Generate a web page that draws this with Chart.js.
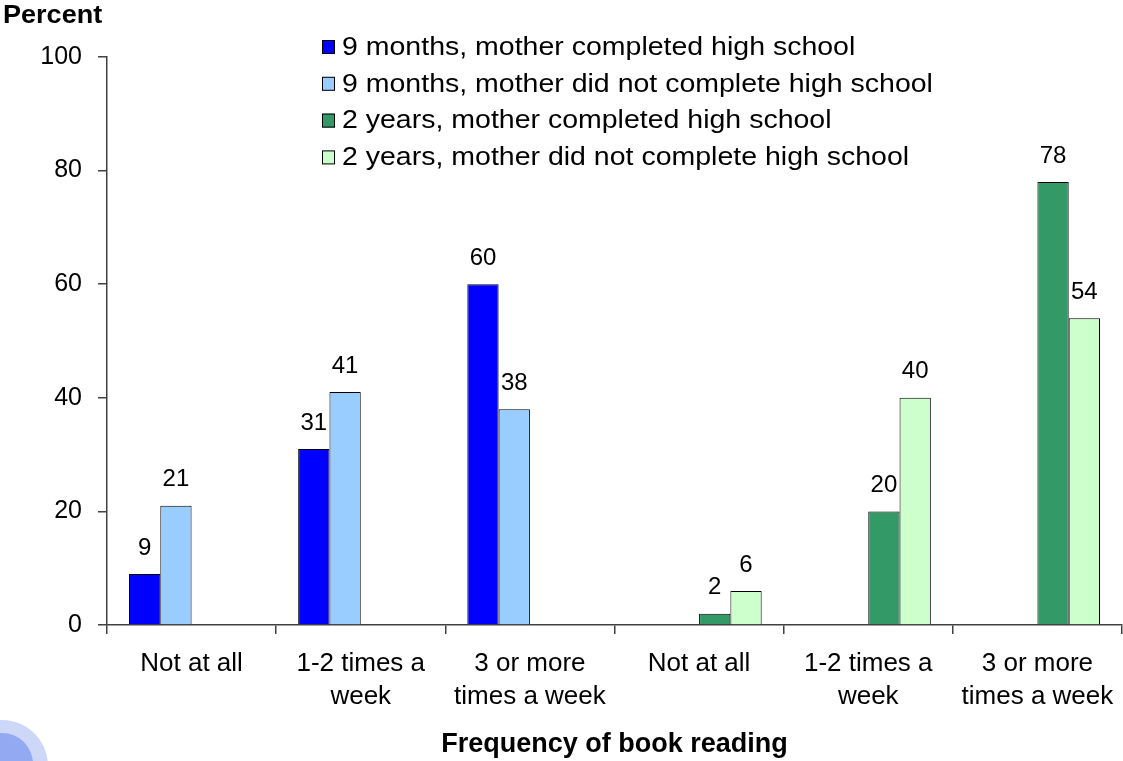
<!DOCTYPE html>
<html>
<head>
<meta charset="utf-8">
<script src="https://cdn.jsdelivr.net/npm/chart.js@4/dist/chart.umd.min.js"></script>
<style>
  html, body { margin: 0; padding: 0; background: #fff; }
  #wrap { width: 1123px; height: 761px; position: relative; }
</style>
</head>
<body>
<div id="wrap"><canvas id="myChart" width="1123" height="761"></canvas></div>
<script>
const categories = [
    'Not at all', ['1-2 times a', 'week'], ['3 or more', 'times a week'],
    'Not at all', ['1-2 times a', 'week'], ['3 or more', 'times a week']
];
const nineMonthsCompleted = [9, 31, 60, null, null, null];
const nineMonthsNotCompleted = [21, 41, 38, null, null, null];
const twoYearsCompleted = [null, null, null, 2, 20, 78];
const twoYearsNotCompleted = [null, null, null, 6, 40, 54];
const yTicks = [0, 20, 40, 60, 80, 100];

const FONT = "'Liberation Sans', Arial, sans-serif";

// value labels above each bar
const valueLabels = {
    id: 'valueLabels',
    afterDatasetsDraw(chart) {
        const ctx = chart.ctx;
        ctx.save();
        ctx.font = '24px ' + FONT;
        ctx.fillStyle = '#000';
        ctx.textAlign = 'center';
        ctx.textBaseline = 'bottom';
        chart.data.datasets.forEach((ds, i) => {
            chart.getDatasetMeta(i).data.forEach((bar, j) => {
                const v = ds.data[j];
                if (v === null) return;
                ctx.fillText(String(v), bar.x, bar.y - 14);
            });
        });
        ctx.restore();
    }
};

// legend inside the plot, "Percent" heading and the corner blob
const decorations = {
    id: 'decorations',
    afterDraw(chart) {
        const ctx = chart.ctx;
        ctx.save();
        ctx.font = 'bold 26px ' + FONT;
        ctx.fillStyle = '#000';
        ctx.textAlign = 'left';
        ctx.textBaseline = 'middle';
        ctx.save();
        ctx.translate(3, 16);
        ctx.scale(1.04, 1);
        ctx.fillText('Percent', 0, 0);
        ctx.restore();

        ctx.font = '25px ' + FONT;
        chart.data.datasets.forEach((ds, i) => {
            const y = 47 + i * 36.8;
            ctx.fillStyle = ds.backgroundColor;
            ctx.fillRect(322, y - 7, 13, 14);
            ctx.strokeStyle = '#000';
            ctx.lineWidth = 1;
            ctx.strokeRect(322.5, y - 6.5, 12, 13);
            ctx.fillStyle = '#000';
            ctx.save();
            ctx.translate(342, y + 1);
            ctx.scale(1.14, 1);
            ctx.fillText(ds.label, 0, 0);
            ctx.restore();
        });

        ctx.fillStyle = '#cdd8f8';
        ctx.beginPath();
        ctx.ellipse(2, 766, 46, 46, 0, 0, Math.PI * 2);
        ctx.fill();
        ctx.fillStyle = '#93aaf3';
        ctx.beginPath();
        ctx.ellipse(2, 764, 31, 31, 0, 0, Math.PI * 2);
        ctx.fill();
        ctx.restore();
    }
};

const ctx = document.getElementById('myChart').getContext('2d');
const myChart = new Chart(ctx, {
    type: 'bar',
    data: {
        labels: categories,
        datasets: [
            { label: '9 months, mother completed high school', data: nineMonthsCompleted, backgroundColor: '#0000ff' },
            { label: '9 months, mother did not complete high school', data: nineMonthsNotCompleted, backgroundColor: '#99ccff' },
            { label: '2 years, mother completed high school', data: twoYearsCompleted, backgroundColor: '#339966' },
            { label: '2 years, mother did not complete high school', data: twoYearsNotCompleted, backgroundColor: '#ccffcc' }
        ]
    },
    options: {
        responsive: false,
        animation: false,
        layout: { padding: { top: 57, right: 1, left: 0, bottom: 0 } },
        datasets: {
            bar: {
                borderColor: '#000',
                borderWidth: 1,
                borderSkipped: 'bottom',
                categoryPercentage: 0.74,
                barPercentage: 1
            }
        },
        plugins: {
            legend: { display: false },
            tooltip: { enabled: false }
        },
        scales: {
            x: {
                afterFit(scale) {
                    scale.height = 136;
                    scale.paddingLeft = 0;
                    scale.paddingRight = 0;
                },
                grid: { drawOnChartArea: false, offset: true, tickLength: 9, color: '#404040', lineWidth: 1.5 },
                border: { color: '#404040', width: 1.5 },
                ticks: { color: '#000', font: { family: FONT, size: 26, lineHeight: 1.25 }, padding: 14, maxRotation: 0, autoSkip: false },
                title: {
                    display: true,
                    text: 'Frequency of book reading',
                    color: '#000',
                    font: { family: FONT, size: 27, weight: 'bold' },
                    padding: { top: 0, bottom: 0 }
                }
            },
            y: {
                min: 0,
                max: 100,
                afterFit(scale) { scale.width = 107; },
                afterBuildTicks(scale) { scale.ticks = yTicks.map(v => ({ value: v })); },
                grid: { drawOnChartArea: false, tickLength: 9, color: '#404040', lineWidth: 1.5 },
                border: { color: '#404040', width: 1.5 },
                ticks: { color: '#000', font: { family: FONT, size: 25 }, padding: 16 }
            }
        }
    },
    plugins: [valueLabels, decorations]
});
</script>
</body>
</html>
